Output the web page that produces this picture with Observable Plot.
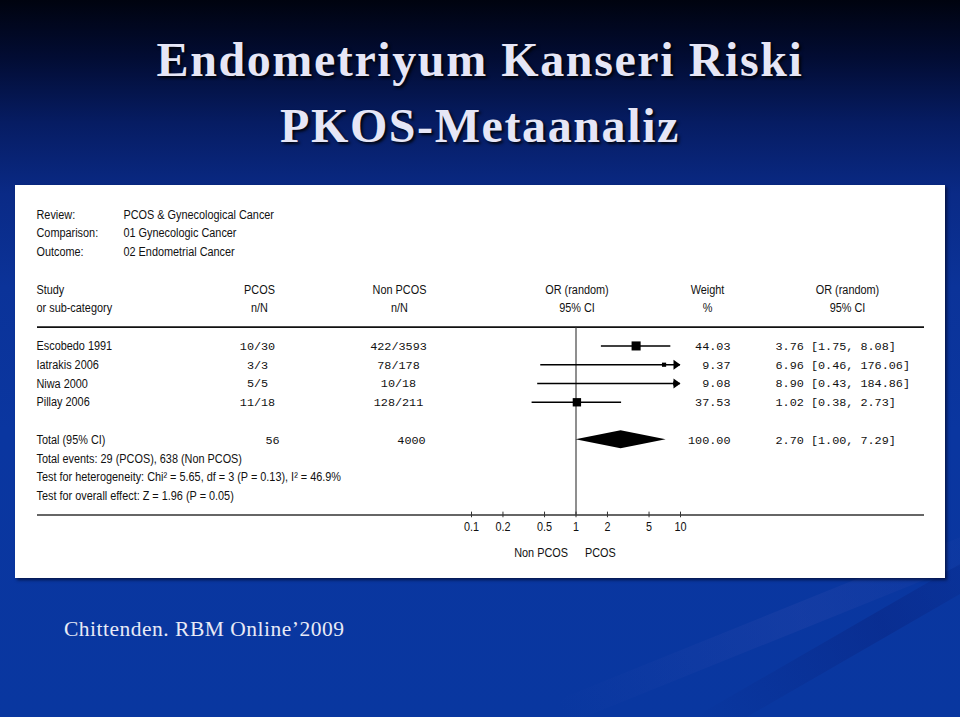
<!DOCTYPE html>
<html>
<head>
<meta charset="utf-8">
<script src="https://cdn.jsdelivr.net/npm/d3@7"></script>
<script src="https://cdn.jsdelivr.net/npm/@observablehq/plot@0.6"></script>
<style>
  html, body { margin: 0; padding: 0; }
  body {
    width: 960px; height: 717px; overflow: hidden; position: relative;
    background: linear-gradient(to bottom, #00030f 0%, #020c33 8%, #061c62 17%, #0a2a86 27%, #0b3399 40%, #0a36a0 60%, #0937a0 100%);
  }
  .streak { position: absolute; height: 26px; transform-origin: left center; border-radius: 13px; }
  .title {
    position: absolute; left: 0; top: 27px; width: 960px; margin: 0; text-align: center;
    font-family: "Liberation Serif", "Times New Roman", serif; font-weight: bold;
    font-size: 48px; line-height: 66px; letter-spacing: 1.6px;
    color: #e6e6f6; text-shadow: 2px 2px 3px rgba(0,0,0,0.9);
  }
  #panel {
    position: absolute; left: 15px; top: 185px; width: 930px; height: 393px;
    background: #fff; box-shadow: 2px 2px 3px rgba(0,0,20,0.6);
  }
  #panel svg { display: block; }
  .caption {
    position: absolute; left: 64px; top: 617px;
    font-family: "Liberation Serif", "Times New Roman", serif; font-size: 21.5px;
    letter-spacing: 0.5px; color: #e8eaf6;
  }
</style>
</head>
<body>
<div class="streak" style="left:560px; top:700px; width:520px; transform: rotate(-22deg); background: linear-gradient(to right, rgba(40,70,170,0), rgba(40,70,170,0.35), rgba(40,70,170,0));"></div>
<div class="streak" style="left:700px; top:716px; width:420px; transform: rotate(-30deg); background: linear-gradient(to right, rgba(10,30,120,0), rgba(10,30,120,0.35), rgba(10,30,120,0));"></div>
<h1 class="title">Endometriyum Kanseri Riski<br>PKOS-Metaanaliz</h1>
<div id="panel"></div>
<div class="caption">Chittenden. RBM Online’2009</div>
<script>
// ---- data ----
const metaLabels = ["Review:", "Comparison:", "Outcome:"];
const metaValues = ["PCOS & Gynecological Cancer", "01 Gynecologic Cancer", "02 Endometrial Cancer"];
const headerTop = ["Study", "PCOS", "Non PCOS", "OR (random)", "Weight", "OR (random)"];
const headerBottom = ["or sub-category", "n/N", "n/N", "95% CI", "%", "95% CI"];
const studies = ["Escobedo 1991", "Iatrakis 2006", "Niwa 2000", "Pillay 2006"];
const pcosN = ["10/30", "3/3", "5/5", "11/18"];
const nonPcosN = ["422/3593", "78/178", "10/18", "128/211"];
const oddsRatio = [3.76, 6.96, 8.90, 1.02];
const ciLow = [1.75, 0.46, 0.43, 0.38];
const ciHigh = [8.08, 176.06, 184.86, 2.73];
const weights = [44.03, 9.37, 9.08, 37.53];
const totalLabel = "Total (95% CI)";
const totalPcos = 56, totalNonPcos = 4000;
const totalOR = 2.70, totalLow = 1.00, totalHigh = 7.29, totalWeight = 100.00;
const footerLines = [
  "Total events: 29 (PCOS), 638 (Non PCOS)",
  "Test for heterogeneity: Chi² = 5.65, df = 3 (P = 0.13), I² = 46.9%",
  "Test for overall effect: Z = 1.96 (P = 0.05)"
];
const axisTicks = [0.1, 0.2, 0.5, 1, 2, 5, 10];
const tickLabels = ["0.1", "0.2", "0.5", "1", "2", "5", "10"];
const favourLabels = ["Non PCOS", "PCOS"];

// ---- derived tables ----
const f2 = d3.format(".2f");
const rows = studies.map((s, i) => ({
  study: s, row: i, pcos: pcosN[i], non: nonPcosN[i],
  or: oddsRatio[i], lo: ciLow[i], hi: ciHigh[i], w: weights[i],
  ciText: `${f2(oddsRatio[i])} [${f2(ciLow[i])}, ${f2(ciHigh[i])}]`
}));
const totalRow = 5;
const footerStart = 6;
const axisRow = 9;
const diamond = [
  {x: totalLow, h: 0}, {x: totalOR, h: 0.48}, {x: totalHigh, h: 0}
];
const ticks = axisTicks.map((t, i) => ({t, label: tickLabels[i]}));

const SANS = "Liberation Sans, Arial, sans-serif";
const MONO = "Liberation Mono, Courier New, monospace";
const fs = 12.5, fm = 11.8;
const col = {label: 21, meta: 108, pcos: 242, non: 383, pcosTot: 257, nonTot: 396, weightHead: 692, weightEnd: 715, ciText: 760, orHead2: 832};

const arrowSymbol = {
  draw(ctx, size) {
    const r = Math.sqrt(size / Math.PI);
    ctx.moveTo(r, 0); ctx.lineTo(-r * 0.4, -r); ctx.lineTo(-r * 0.4, r); ctx.closePath();
  }
};

const sansText = (data, o) => Plot.text(data, {fontFamily: SANS, fontSize: fs, fill: "#111", ...o});
const monoText = (data, o) => Plot.text(data, {fontFamily: MONO, fontSize: fm, fill: "#111", ...o});

const chart = Plot.plot({
  width: 930, height: 393,
  marginTop: 0, marginBottom: 0, marginLeft: 0, marginRight: 0,
  style: {background: "white", color: "black", overflow: "visible"},
  x: {type: "log", domain: [0.1, 10], range: [456, 665], clamp: true, axis: null},
  y: {type: "linear", domain: [-7, 11], range: [29, 367], axis: null},
  r: {type: "sqrt", domain: [0, 100], range: [0, 7.7]},
  marks: [
    // meta information
    sansText(metaLabels, {text: d => d, y: (d, i) => -7 + i, frameAnchor: "left", dx: col.label, textAnchor: "start"}),
    sansText(metaValues, {text: d => d, y: (d, i) => -7 + i, frameAnchor: "left", dx: col.meta, textAnchor: "start"}),
    // header
    sansText([headerTop[0], headerBottom[0]], {text: d => d, y: (d, i) => -3 + i, frameAnchor: "left", dx: col.label, textAnchor: "start"}),
    sansText([headerTop[1], headerBottom[1]], {text: d => d, y: (d, i) => -3 + i, frameAnchor: "left", dx: col.pcos + 2, textAnchor: "middle"}),
    sansText([headerTop[2], headerBottom[2]], {text: d => d, y: (d, i) => -3 + i, frameAnchor: "left", dx: col.non + 1, textAnchor: "middle"}),
    sansText([headerTop[3], headerBottom[3]], {text: d => d, y: (d, i) => -3 + i, x: 1, dx: 1, textAnchor: "middle"}),
    sansText([headerTop[4], headerBottom[4]], {text: d => d, y: (d, i) => -3 + i, frameAnchor: "left", dx: col.weightHead, textAnchor: "middle"}),
    sansText([headerTop[5], headerBottom[5]], {text: d => d, y: (d, i) => -3 + i, frameAnchor: "left", dx: col.orHead2, textAnchor: "middle"}),
    Plot.ruleY([-1], {stroke: "#111", strokeWidth: 1.6, insetLeft: 22, insetRight: 21}),
    // reference line at OR = 1
    Plot.ruleX([1], {y1: -1, y2: axisRow, stroke: "#333", strokeWidth: 1.1}),
    // study rows
    sansText(rows, {text: "study", y: "row", frameAnchor: "left", dx: col.label, textAnchor: "start"}),
    monoText(rows, {text: "pcos", y: "row", frameAnchor: "left", dx: col.pcos, textAnchor: "middle"}),
    monoText(rows, {text: "non", y: "row", frameAnchor: "left", dx: col.non, textAnchor: "middle"}),
    monoText(rows, {text: d => f2(d.w), y: "row", frameAnchor: "left", dx: col.weightEnd, textAnchor: "end"}),
    monoText(rows, {text: "ciText", y: "row", frameAnchor: "left", dx: col.ciText, textAnchor: "start"}),
    Plot.ruleY(rows, {y: "row", x1: "lo", x2: "hi", stroke: "#000", strokeWidth: 1.4}),
    Plot.dot(rows, {x: "or", y: "row", r: "w", symbol: "square", fill: "#000", stroke: "none"}),
    Plot.dot(rows.filter(d => d.hi > 10), {x: "hi", y: "row", r: 5, dx: -5, symbol: arrowSymbol, fill: "#000", stroke: "none"}),
    // total row
    sansText([totalLabel], {text: d => d, y: totalRow, frameAnchor: "left", dx: col.label, textAnchor: "start"}),
    monoText([totalPcos], {text: d => String(d), y: totalRow, frameAnchor: "left", dx: col.pcosTot, textAnchor: "middle"}),
    monoText([totalNonPcos], {text: d => String(d), y: totalRow, frameAnchor: "left", dx: col.nonTot, textAnchor: "middle"}),
    monoText([totalWeight], {text: d => f2(d), y: totalRow, frameAnchor: "left", dx: col.weightEnd, textAnchor: "end"}),
    monoText([totalOR], {text: () => `${f2(totalOR)} [${f2(totalLow)}, ${f2(totalHigh)}]`, y: totalRow, frameAnchor: "left", dx: col.ciText, textAnchor: "start"}),
    Plot.areaY(diamond, {x: "x", y1: d => totalRow - d.h, y2: d => totalRow + d.h, fill: "#000", curve: "linear"}),
    // footer
    sansText(footerLines, {text: d => d, y: (d, i) => footerStart + i, frameAnchor: "left", dx: col.label, textAnchor: "start"}),
    // axis
    Plot.ruleY([axisRow], {stroke: "#333", strokeWidth: 1.6, insetLeft: 22, insetRight: 21}),
    Plot.ruleX(ticks, {x: "t", y1: axisRow - 0.15, y2: axisRow + 0.15, stroke: "#333", strokeWidth: 1}),
    sansText(ticks, {x: "t", y: axisRow + 0.65, text: "label", textAnchor: "middle"}),
    sansText([favourLabels[0]], {text: d => d, x: 1, y: axisRow + 2, dx: -8, textAnchor: "end"}),
    sansText([favourLabels[1]], {text: d => d, x: 1, y: axisRow + 2, dx: 9, textAnchor: "start"})
  ]
});

document.getElementById("panel").append(chart);
chart.querySelectorAll("text").forEach(t => {
  const ff = (t.closest("[font-family]") || {getAttribute: () => ""}).getAttribute("font-family") || "";
  if (!ff.startsWith("Liberation Sans")) return;
  const L = t.getComputedTextLength();
  if (!(L > 0)) return;
  t.setAttribute("textLength", (L * 0.87).toFixed(1));
  t.setAttribute("lengthAdjust", "spacingAndGlyphs");
});
</script>
</body>
</html>
